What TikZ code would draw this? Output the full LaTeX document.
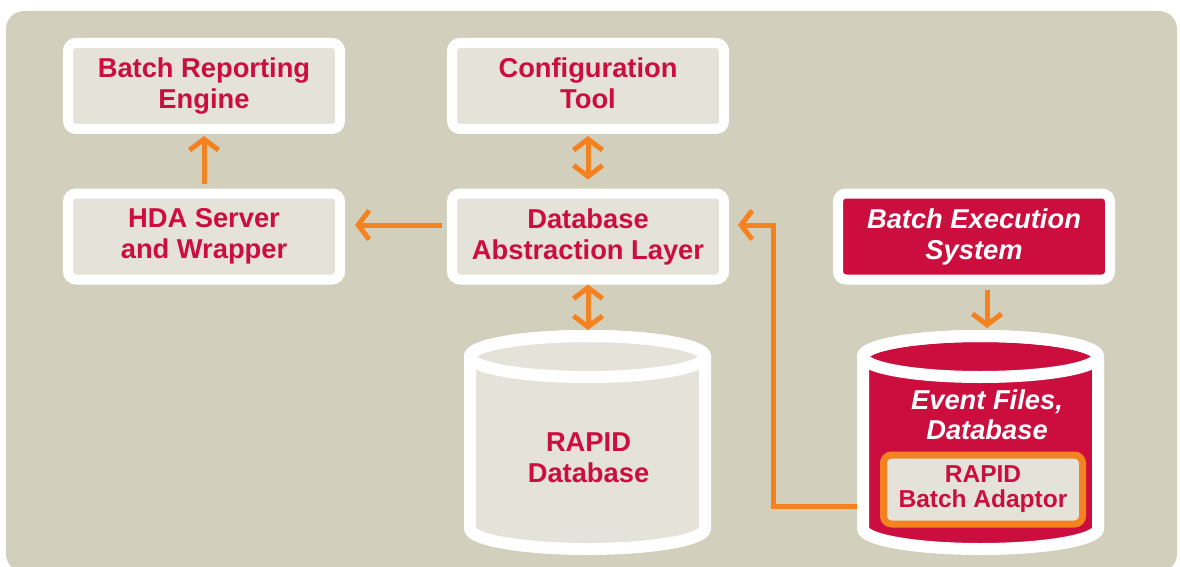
\documentclass[tikz,border=0pt]{standalone}
\usepackage{fontspec}
\setmainfont{Liberation Sans}
\usetikzlibrary{arrows.meta}
\definecolor{bg}{RGB}{211,207,189}
\definecolor{boxfill}{RGB}{229,226,217}
\definecolor{crim}{RGB}{204,14,63}
\definecolor{orng}{RGB}{245,130,32}
\begin{document}
\begin{tikzpicture}[x=1pt,y=1pt,
  box/.style={draw=white,line width=10pt,fill=boxfill,rounded corners=8pt,
    minimum width=272pt,minimum height=86pt,align=center,text=crim,
    font=\bfseries\fontsize{27.3}{31}\selectfont},
  redbox/.style={box,fill=crim,text=white,
    font=\bfseries\itshape\fontsize{27.3}{31}\selectfont},
  cyl/.style={draw=white,line width=12pt},
  label/.style={align=center,text=crim,font=\bfseries\fontsize{27.3}{31}\selectfont},
  link/.style={draw=orng,line width=5pt,-{Straight Barb[length=11pt,width=29pt]}},
  both/.style={link,{Straight Barb[length=11pt,width=29pt]}-{Straight Barb[length=11pt,width=29pt]}}]
\useasboundingbox (0,0) rectangle (1180,-567);
\fill[bg,rounded corners=18pt] (6,-11) rectangle (1177,-572);

% boxes
\node[box] (report) at (204,-86) {Batch Reporting\\Engine};
\node[box] (config) at (588,-86) {Configuration\\Tool\vphantom{g}};
\node[box] (hda) at (204,-236.5) {HDA Server\\and Wrapper};
\node[box] (dal) at (588,-236.5) {Database\\Abstraction Layer};
\node[redbox] (exec) at (974,-236.5) {Batch Execution\\System};

% RAPID database
\draw[cyl,fill=boxfill] (470,-356.5) -- (470,-528.5)
  arc[start angle=180,end angle=360,x radius=117.5,y radius=20.5] -- (705,-356.5)
  arc[start angle=0,end angle=180,x radius=117.5,y radius=20.5] -- cycle;
\draw[cyl] (587.5,-356.5) ellipse[x radius=117.5,y radius=20.5];
\node[label] (rapid) at (588.5,-457.5) {RAPID\\Database};
\coordinate (dbtop) at (587.5,-336);

% event files
\draw[cyl,fill=crim] (863,-356.5) -- (863,-528.5)
  arc[start angle=180,end angle=360,x radius=117.5,y radius=20.5] -- (1098,-356.5)
  arc[start angle=0,end angle=180,x radius=117.5,y radius=20.5] -- cycle;
\draw[cyl] (980.5,-356.5) ellipse[x radius=117.5,y radius=20.5];
\node[label,text=white,font=\bfseries\itshape\fontsize{27.3}{30}\selectfont] (event) at (987,-415) {Event Files,\\Database};
\node[draw=orng,line width=7pt,fill=boxfill,rounded corners=8pt,minimum width=199pt,
  minimum height=69pt,label,font=\bfseries\fontsize{24.5}{25}\selectfont] (adaptor) at (983,-489.5) {RAPID\\Batch Adaptor};
\coordinate (evtop) at (987,-336);
\coordinate (evleft) at (857,-506);
\coordinate (bend) at (773,-225);

% arrows
\draw[link,shorten <=5pt,shorten >=2pt] (hda.north) -- (report.south);
\draw[link,shorten <=5pt,shorten >=10pt] ([yshift=11.5pt]dal.west) -- ([yshift=11.5pt]hda.east);
\draw[both,shorten <=2pt,shorten >=9pt] (config.south) -- (dal.north);
\draw[both,shorten <=0pt,shorten >=6pt] (dal.south) -- (dal.south |- dbtop);
\draw[link,shorten <=5pt,shorten >=8pt] (exec.south -| evtop) -- (evtop);
\draw[link,shorten >=9pt] (evleft) -| (bend) -- ([yshift=11.5pt]dal.east);
\end{tikzpicture}
\end{document}
